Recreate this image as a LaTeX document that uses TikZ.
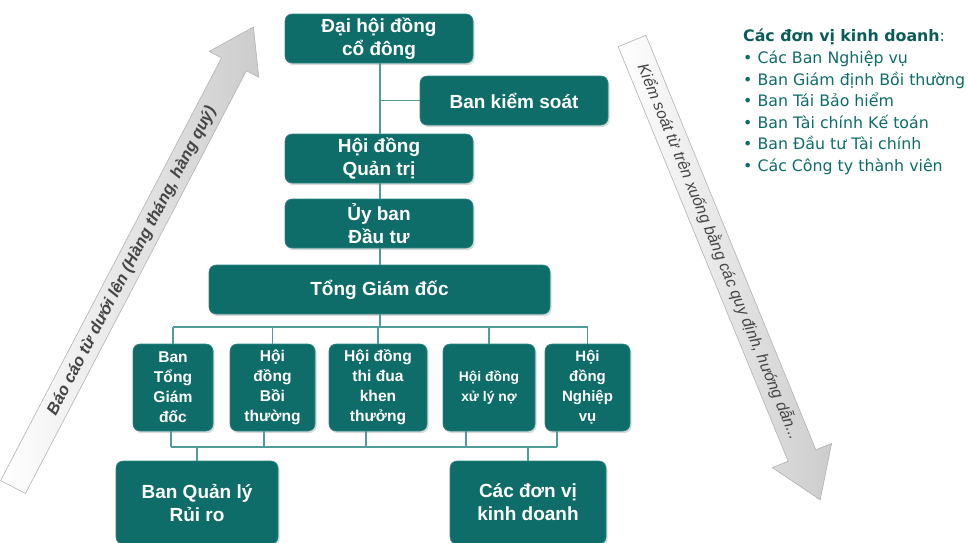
\documentclass[tikz,border=0pt]{standalone}
\usepackage{fontspec}
\setmainfont{Liberation Sans}
\newfontfamily\legendfont{DejaVu Sans}
\usetikzlibrary{calc,shadows}
\definecolor{boxteal}{HTML}{0E6C69}
\definecolor{boxedge}{HTML}{2E8784}
\definecolor{linkteal}{HTML}{4F9C99}
\definecolor{legtitle}{HTML}{0A5C59}
\definecolor{legitem}{HTML}{0E6C69}
\definecolor{arrowtext}{HTML}{454545}
\tikzset{
  orgbox/.style={draw=boxedge, line width=0.6pt, fill=boxteal, rounded corners=7pt,
    text=white, font=\bfseries\fontsize{19}{23}\selectfont, align=center,
    inner sep=0pt, drop shadow={shadow xshift=1.5pt, shadow yshift=-2pt, opacity=0.3, fill=gray}},
  smallbox/.style={orgbox, font=\bfseries\fontsize{15.6}{20}\selectfont},
  link/.style={draw=linkteal, line width=1.3pt},
  bigarrow/.style={draw=gray!60, line width=0.6pt, line join=round}
}
\begin{document}
\begin{tikzpicture}[x=1pt,y=-1pt]
\useasboundingbox (0,0) rectangle (968,542);

% ---- arrows ----
\begin{scope}[shift={(13,487)}, rotate=62.4]
  \path[bigarrow, left color=white, right color=gray!40] (0,-14) -- (477,-14) -- (477,-28) -- (519,0) -- (477,28) -- (477,14) -- (0,14) -- cycle;
\end{scope}
\node[rotate=62.4, text=arrowtext, font=\bfseries\itshape\fontsize{16.5}{20}\selectfont] (uptext) at (132,261) {Báo cáo từ dưới lên (Hàng tháng, hàng quý)};

\begin{scope}[shift={(632,41)}, rotate=-67.7]
  \path[bigarrow, left color=white, right color=gray!40] (0,-15) -- (448,-15) -- (448,-32) -- (496,0) -- (448,32) -- (448,15) -- (0,15) -- cycle;
\end{scope}
\node[rotate=-67.7, text=arrowtext, font=\itshape\fontsize{16}{19}\selectfont] (downtext) at (719,252) {Kiểm soát từ trên xuống bằng các quy định, hướng dẫn...};

% ---- boxes ----
\node[orgbox, minimum width=188, minimum height=49] (dhdcd) at (379,38.5) {Đại hội đồng\\cổ đông};
\node[orgbox, minimum width=188, minimum height=49] (bks) at (514,100.5) {Ban kiểm soát};
\node[orgbox, minimum width=188, minimum height=49] (hdqt) at (379,158.5) {Hội đồng\\Quản trị};
\node[orgbox, minimum width=188, minimum height=49] (ubdt) at (379,223.5) {Ủy ban\\Đầu tư};
\node[orgbox, minimum width=341, minimum height=49] (tgd) at (379.5,289.5) {Tổng Giám đốc};

\node[smallbox, minimum width=80, minimum height=87] (b1) at (173,387.5) {Ban\\Tổng\\Giám\\đốc};
\node[smallbox, minimum width=85, minimum height=87] (b2) at (272.5,387.5) {Hội\\đồng\\Bồi\\thường};
\node[smallbox, minimum width=98, minimum height=87] (b3) at (378,387.5) {Hội đồng\\thi đua\\khen\\thưởng};
\node[smallbox, minimum width=92, minimum height=87, font=\bfseries\fontsize{13.9}{20}\selectfont] (b4) at (489,387.5) {Hội đồng\\xử lý nợ};
\node[smallbox, minimum width=85, minimum height=87, font=\bfseries\fontsize{15}{20}\selectfont] (b5) at (587.5,387.5) {Hội\\đồng\\Nghiệp\\vụ};

\node[orgbox, minimum width=162, minimum height=83] (bqlrr) at (197,502.5) {Ban Quản lý\\Rủi ro};
\node[orgbox, minimum width=156, minimum height=83] (cdvkd) at (528,502.5) {Các đơn vị\\kinh doanh};

% ---- connectors ----
\coordinate (spine) at (380,0);
\coordinate (bksj) at (380,100.5);
\coordinate (topbar) at (0,327);
\coordinate (botbar) at (0,447);
\coordinate (x1) at (171,0);
\coordinate (x2) at (264,0);
\coordinate (x3) at (366,0);
\coordinate (x4) at (466,0);
\coordinate (x5) at (557,0);
\coordinate (xl) at (197,0);
\coordinate (xr) at (528,0);

\draw[link] (dhdcd.south -| spine) -- (hdqt.north -| spine);
\draw[link] (hdqt.south -| spine) -- (ubdt.north -| spine);
\draw[link] (ubdt.south -| spine) -- (tgd.north -| spine);
\draw[link] (bksj) -- (bks.west);
\draw[link] (tgd.south -| spine) -- (topbar -| spine);
\draw[link] (topbar -| b1.north) -- (topbar -| b5.north);
\foreach \b in {b1,b2,b3,b4,b5} { \draw[link] (topbar -| \b.north) -- (\b.north); }
\draw[link] (b1.south -| x1) -- (botbar -| x1);
\draw[link] (b2.south -| x2) -- (botbar -| x2);
\draw[link] (b3.south -| x3) -- (botbar -| x3);
\draw[link] (b4.south -| x4) -- (botbar -| x4);
\draw[link] (b5.south -| x5) -- (botbar -| x5);
\draw[link] (botbar -| x1) -- (botbar -| x5);
\draw[link] (botbar -| xl) -- (bqlrr.north -| xl);
\draw[link] (botbar -| xr) -- (cdvkd.north -| xr);

% ---- legend ----
\node[anchor=north west, align=left, inner sep=0pt, text=legitem,
      font=\legendfont\fontsize{15.8}{21.6}\selectfont] (legend) at (743,29)
  {{\color{legtitle}\bfseries Các đơn vị kinh doanh}:\\
   • Các Ban Nghiệp vụ\\
   • Ban Giám định Bồi thường\\
   • Ban Tái Bảo hiểm\\
   • Ban Tài chính Kế toán\\
   • Ban Đầu tư Tài chính\\
   • Các Công ty thành viên};
\end{tikzpicture}
\end{document}
